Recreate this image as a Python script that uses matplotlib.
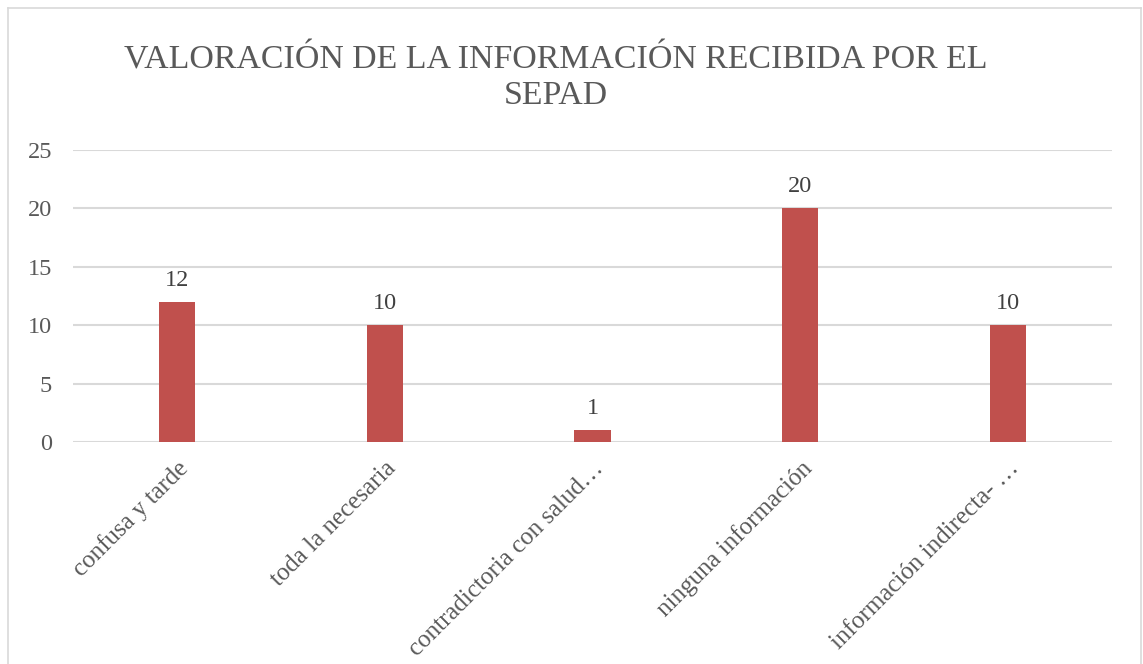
import matplotlib
matplotlib.use("Agg")
import matplotlib.pyplot as plt
from matplotlib.lines import Line2D

categories = ["confusa y tarde", "toda la necesaria", "contradictoria con salud…",
              "ninguna información", "información indirecta- …"]
values = [12, 10, 1, 20, 10]
yticks = [0, 5, 10, 15, 20, 25]
title = "VALORACIÓN DE LA INFORMACIÓN RECIBIDA POR EL\nSEPAD"

W, H = 1143, 664
fig = plt.figure(figsize=(W / 100, H / 100), dpi=100)
serif = ["Liberation Serif", "DejaVu Serif"]

ax = fig.add_axes([73 / W, 1 - 442 / H, (1112 - 73) / W, (442 - 150) / H])
x = list(range(len(categories)))
ax.bar(x, values, width=0.175, color="#c0504d", zorder=3)
ax.set_xlim(-0.5, len(categories) - 0.5)
ax.set_ylim(0, 25)
ax.set_yticks(yticks)
ax.yaxis.grid(True, color="#d9d9d9", linewidth=1.5, zorder=0)
for s in ax.spines.values():
    s.set_visible(False)
ax.tick_params(axis="both", length=0, labelcolor="#595959")
ax.tick_params(axis="y", pad=15)
ax.tick_params(axis="x", pad=11)
ax.set_yticklabels([str(t) for t in yticks], fontfamily=serif, fontsize=17.5)
ax.set_xticks(x)
ax.set_xticklabels(categories, rotation=45, ha="right", va="top", rotation_mode="anchor",
                   fontfamily=serif, fontsize=18)
for xi, v in zip(x, values):
    ax.annotate(str(v), (xi, v), xytext=(0, 8), textcoords="offset points",
                ha="center", va="bottom", fontsize=17.5, color="#404040", fontfamily=serif)

fig.text(556 / W, 1 - 78 / H, title, ha="center", va="center", fontsize=24.4,
         color="#595959", fontfamily=serif, linespacing=1.25)

border = "#d9d9d9"
fig.add_artist(Line2D([8 / W, 8 / W], [0, 1 - 8 / H], color=border, lw=1.2))
fig.add_artist(Line2D([8 / W, 1141 / W], [1 - 8 / H, 1 - 8 / H], color=border, lw=1.2))
fig.add_artist(Line2D([1141 / W, 1141 / W], [0, 1 - 8 / H], color=border, lw=1.2))

fig.savefig("out.png", dpi=100)
